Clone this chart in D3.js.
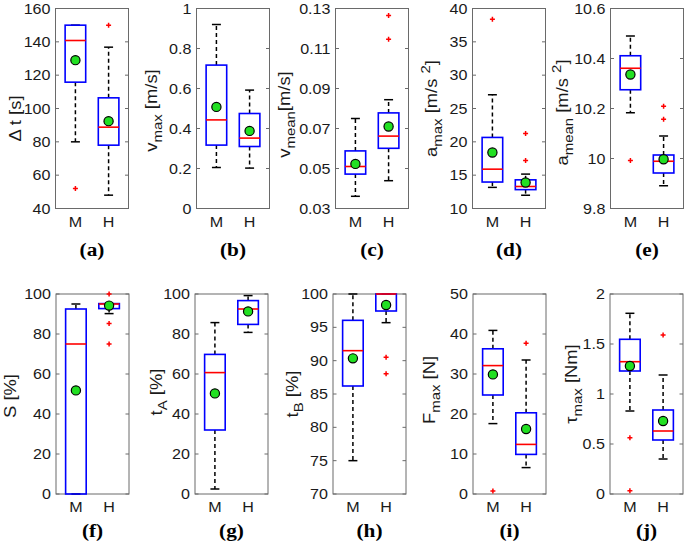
<!DOCTYPE html>
<html><head><meta charset="utf-8">
<script src="https://cdn.jsdelivr.net/npm/d3@7"></script>
<style>body{margin:0;background:#fff}svg{display:block}</style></head>
<body>
<svg id="chart" width="685" height="544"></svg>
<script>
// ---------- data ----------
const panelLabels = ["(a)","(b)","(c)","(d)","(e)","(f)","(g)","(h)","(i)","(j)"];
const groups = ["M","H"];
const yDomains = [[40,160],[0,1],[0.03,0.13],[10,40],[9.8,10.6],[0,100],[0,100],[70,100],[0,50],[0,2]];
const yTickLabels = [
  ["40","60","80","100","120","140","160"],
  ["0","0.2","0.4","0.6","0.8","1"],
  ["0.03","0.05","0.07","0.09","0.11","0.13"],
  ["10","15","20","25","30","35","40"],
  ["9.8","10","10.2","10.4","10.6"],
  ["0","20","40","60","80","100"],
  ["0","20","40","60","80","100"],
  ["70","75","80","85","90","95","100"],
  ["0","10","20","30","40","50"],
  ["0","0.5","1","1.5","2"]
];
// y-axis titles: [text, mode] where mode = "" normal, "sub" subscript, "sup" superscript
const yTitles = [
  [["Δ t [s]",""]],
  [["v",""],["max","sub"],[" [m/s]",""]],
  [["v",""],["mean","sub"],["[m/s]",""]],
  [["a",""],["max","sub"],[" [m/s ",""],["2","sup"],["]",""]],
  [["a",""],["mean","sub"],[" [m/s ",""],["2","sup"],["]",""]],
  [["S [%]",""]],
  [["t",""],["A","sub"],[" [%]",""]],
  [["t",""],["B","sub"],[" [%]",""]],
  [["F",""],["max","sub"],[" [N]",""]],
  [["τ",""],["max","sub"],[" [Nm]",""]]
];
// box statistics per panel: [M, H]
const whiskerLow = [[80,48],[0.205,0.202],[0.0361,0.0439],[13.17,11.99],[10.183,9.891],[0,90.2],[2.5,80.8],[75,95.7],[17.6,6.6],[0.83,0.35]];
const quartile1  = [[115.8,78],[0.317,0.31],[0.0472,0.0601],[13.97,12.83],[10.275,9.942],[0,92.7],[32,84.8],[86.2,97.45],[24.75,9.9],[1.23,0.54]];
const medians    = [[140.8,88.8],[0.443,0.352],[0.051,0.0662],[15.9,13.3],[10.361,9.989],[75,95],[60.7,92.5],[91.5,100],[32.1,12.4],[1.323,0.63]];
const quartile3  = [[150,106.4],[0.717,0.475],[0.0588,0.0778],[20.66,14.3],[10.411,10.014],[92.5,95.2],[69.8,96.7],[96.05,100],[36.3,20.3],[1.547,0.84]];
const whiskerHigh= [[150,136.8],[0.92,0.592],[0.075,0.0844],[27.06,15.16],[10.49,10.09],[95,95.2],[85.7,99.2],[100,100],[40.9,33.5],[1.807,1.19]];
const means      = [[129,92.4],[0.508,0.388],[0.0523,0.071],[18.4,13.9],[10.336,9.997],[51.8,94.2],[50.3,91.3],[90.35,98.35],[29.9,16.25],[1.28,0.73]];
const outliers   = [
  [[52],[150]],
  [[],[]],
  [[],[0.1265,0.1146]],
  [[38.4],[21.26,17.19]],
  [[9.992],[10.209,10.157]],
  [[],[100,85.3,75]],
  [[],[]],
  [[],[90.5,88.05]],
  [[0.75],[37.7]],
  [[0.563,0.033],[1.59]]
];

// ---------- layout ----------
const colLeft = [[55.5,196.5,335.5,472.5,610.5],[56,195,333,473,610]];
const rowTop = [8.5,294];
const labelDrop = [47,43];
const axW = 73, axH = 200;
const titleOffset = [-35,-40,-46,-36,-43,-40,-33,-35,-38,-33];
const titleShift = [10,2,6,0,4,2,-2,0,-4,-10];
const SX = 1.15;

const svg = d3.select("#chart");
const sans = "'Liberation Sans', Arial, Helvetica, sans-serif";

function stext(g, x, y, s, anchor, size) {
  return g.append("text").attr("transform",`translate(${x},${y}) scale(${SX},1)`)
    .attr("text-anchor",anchor).attr("font-family",sans).attr("font-size",size)
    .attr("fill","#1a1a1a").text(s);
}

panelLabels.forEach((lab, i) => {
  const row = Math.floor(i/5), col = i%5;
  const left = colLeft[row][col], top = rowTop[row];
  const x = d3.scaleLinear().domain([0.4,2.6]).range([left, left+axW]);
  const y = d3.scaleLinear().domain(yDomains[i]).range([top+axH, top]);
  const g = svg.append("g");
  const bw = x(1.31)-x(1), cw = x(1.135)-x(1);

  // frame
  g.append("rect").attr("x",left).attr("y",top).attr("width",axW).attr("height",axH)
    .attr("fill","none").attr("stroke","#6a6a6a").attr("stroke-width",1);

  // y ticks (inward both sides) + labels
  yTickLabels[i].forEach(t => {
    const v = +t, yy = y(v);
    g.append("line").attr("x1",left).attr("x2",left+3.5).attr("y1",yy).attr("y2",yy).attr("stroke","#6a6a6a");
    g.append("line").attr("x1",left+axW).attr("x2",left+axW-3.5).attr("y1",yy).attr("y2",yy).attr("stroke","#6a6a6a");
    stext(g, left-5, yy+5, t, "end", 14);
  });
  // x tick labels
  groups.forEach((gr, k) => stext(g, x(k+1), top+axH+18, gr, "middle", 14));

  // y title
  const tt = g.append("text")
    .attr("transform",`translate(${left+titleOffset[i]},${top+axH/2+titleShift[i]}) rotate(-90) scale(${SX},1)`)
    .attr("text-anchor","middle").attr("font-family",sans).attr("font-size",16).attr("fill","#1a1a1a");
  let cur = 0;
  yTitles[i].forEach(([s,mode]) => {
    const target = mode==="sub" ? 5 : (mode==="sup" ? -7 : 0);
    tt.append("tspan").attr("dy", target-cur).attr("font-size", mode ? 13 : 16).text(s);
    cur = target;
  });

  // boxes
  groups.forEach((gr, k) => {
    const cx = x(k+1);
    const lo = whiskerLow[i][k], q1 = quartile1[i][k], md = medians[i][k], q3 = quartile3[i][k], hi = whiskerHigh[i][k];
    g.append("line").attr("x1",cx).attr("x2",cx).attr("y1",y(q3)).attr("y2",y(hi))
      .attr("stroke","#000").attr("stroke-width",1.5).attr("stroke-dasharray","4,3");
    g.append("line").attr("x1",cx).attr("x2",cx).attr("y1",y(q1)).attr("y2",y(lo))
      .attr("stroke","#000").attr("stroke-width",1.5).attr("stroke-dasharray","4,3");
    [lo,hi].forEach(v => g.append("line").attr("x1",cx-cw).attr("x2",cx+cw).attr("y1",y(v)).attr("y2",y(v))
      .attr("stroke","#000").attr("stroke-width",1.5));
    g.append("rect").attr("x",cx-bw).attr("width",2*bw).attr("y",y(q3)).attr("height",y(q1)-y(q3))
      .attr("fill","none").attr("stroke","#0000ff").attr("stroke-width",1.6);
    g.append("line").attr("x1",cx-bw).attr("x2",cx+bw).attr("y1",y(md)).attr("y2",y(md))
      .attr("stroke","#ff0000").attr("stroke-width",1.6);
    outliers[i][k].forEach(v => {
      const oy = y(v);
      g.append("path").attr("d",`M${cx-2.5},${oy}H${cx+2.5}M${cx},${oy-2.5}V${oy+2.5}`)
        .attr("stroke","#ff0000").attr("stroke-width",1.5);
    });
    g.append("circle").attr("cx",cx).attr("cy",y(means[i][k])).attr("r",4.6)
      .attr("fill","#22e022").attr("stroke","#000").attr("stroke-width",1.2);
  });

  // panel label
  g.append("text").attr("transform",`translate(${left+axW/2},${top+axH+labelDrop[row]}) scale(1.12,1)`)
    .attr("text-anchor","middle")
    .attr("font-family","'Liberation Serif','Times New Roman',serif").attr("font-weight","bold")
    .attr("font-size",19).attr("fill","#000").text(lab);
});
</script>
</body></html>
